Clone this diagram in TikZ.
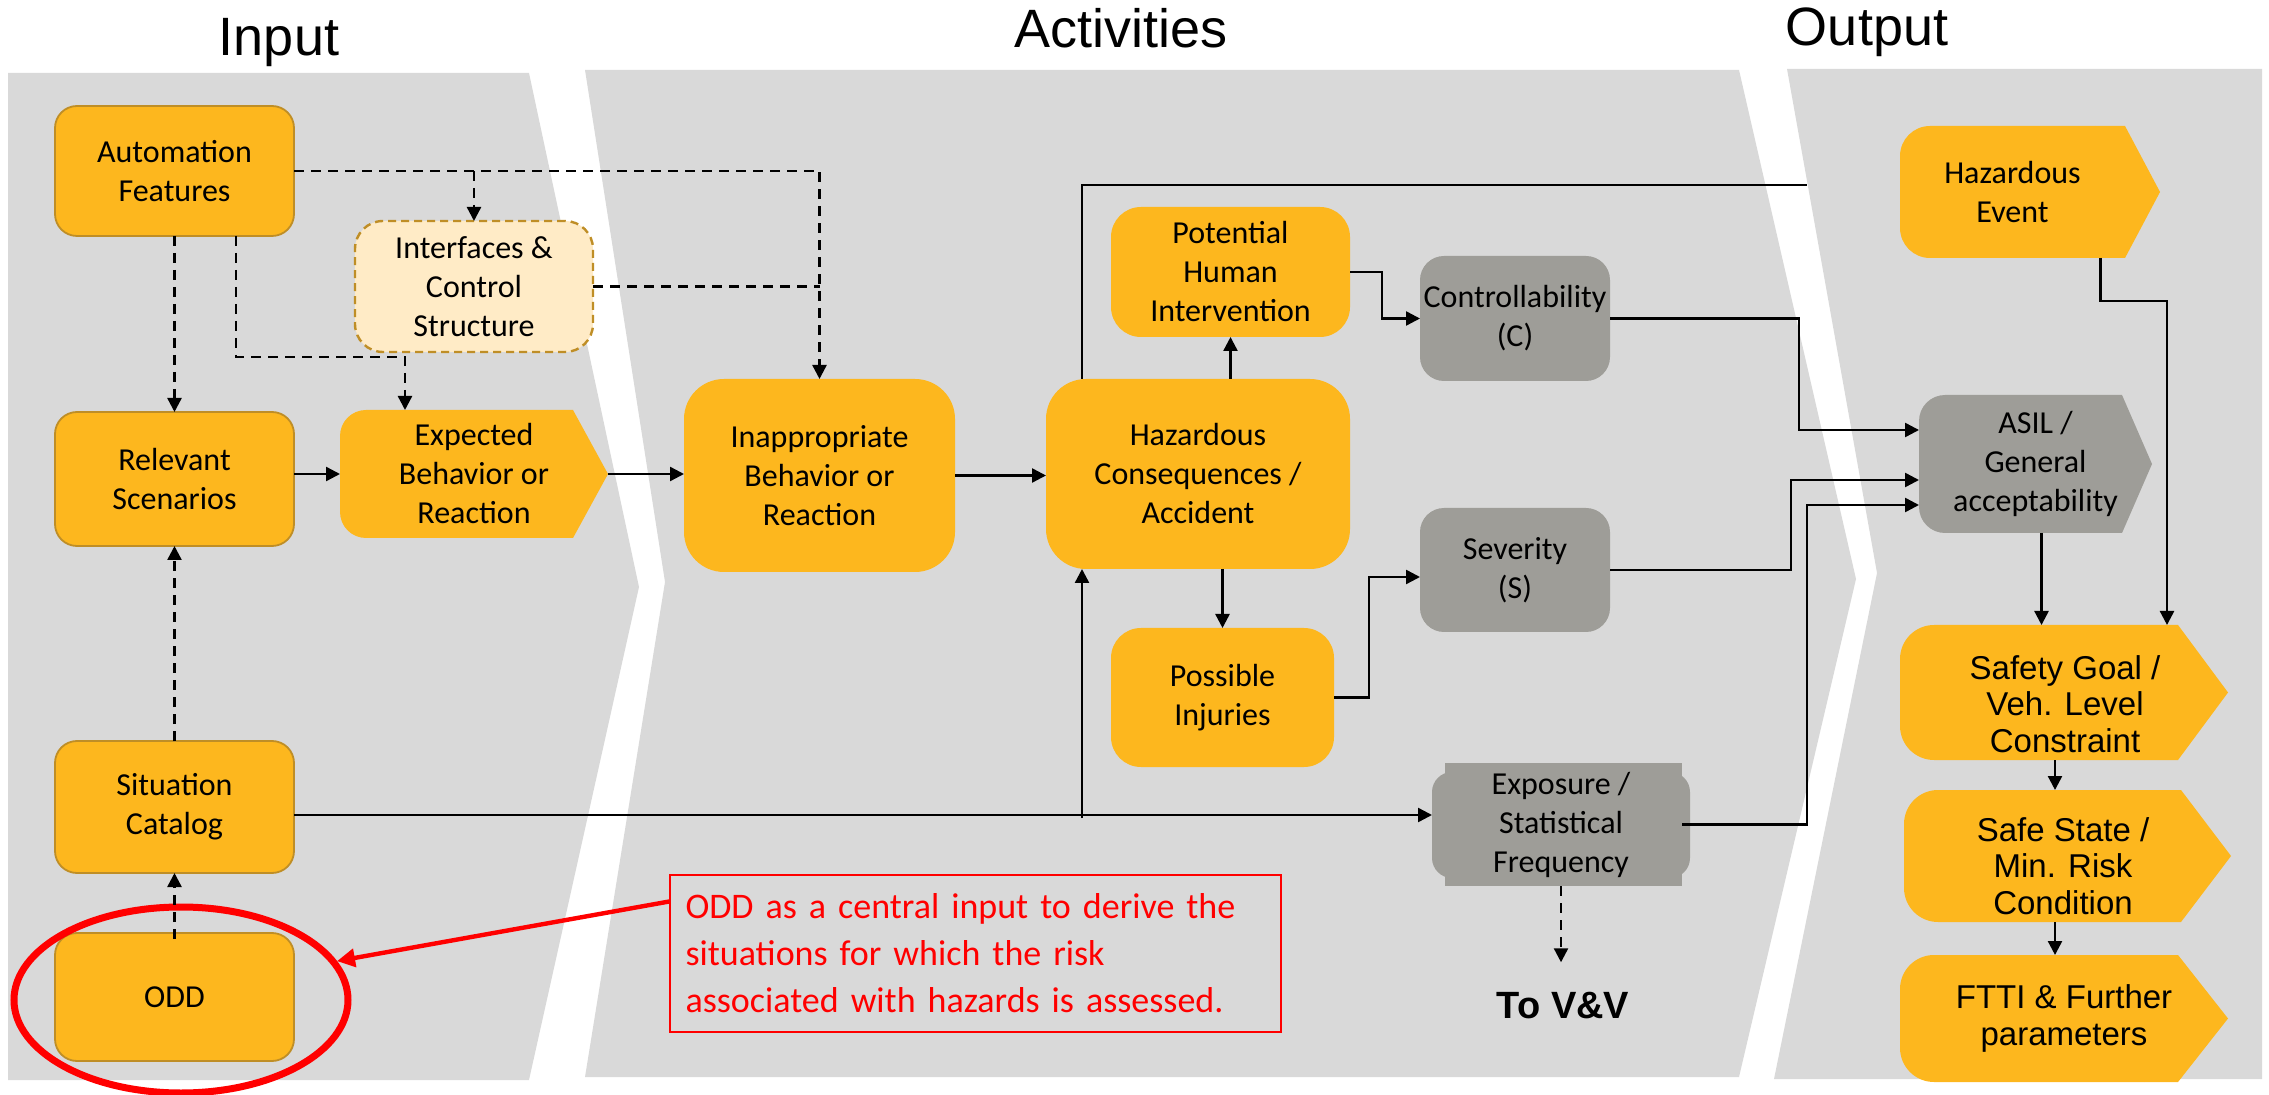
\documentclass[tikz,border=0pt]{standalone}
\usepackage{fontspec}
\setmainfont{Carlito}
\newfontfamily\arialf{Liberation Sans}
\usetikzlibrary{arrows.meta,shapes.geometric,calc}

\definecolor{panel}{RGB}{217,217,217}
\definecolor{orng}{RGB}{253,183,30}
\definecolor{orngline}{RGB}{191,142,38}
\definecolor{lightorng}{RGB}{255,235,198}
\definecolor{grybox}{RGB}{158,157,152}
\definecolor{redc}{RGB}{255,0,0}

\newcommand\nfont{\fontsize{16}{19.5}\selectfont}
\newcommand\afont{\arialf\fontsize{16.5}{18.3}\selectfont}

% #1 style, #2 name, #3 x1, #4 y1, #5 x2, #6 y2, #7 text   (pixel coordinates)
\newcommand\pbox[7]{%
 \pgfmathsetmacro\pbcx{(#3+#5)/2}%
 \pgfmathsetmacro\pbcy{(#4+#6)/2}%
 \pgfmathsetmacro\pbw{(#5-#3)*0.5}%
 \pgfmathsetmacro\pbh{(#6-#4)*0.5}%
 \node[#1, minimum width=\pbw pt, minimum height=\pbh pt] (#2) at (\pbcx,\pbcy) {#7};}

% chevron: #1 colour, #2 x1, #3 y1, #4 x flat, #5 x tip, #6 y2, #7 radius px
\newcommand\chev[7]{%
 \pgfmathsetmacro\chm{(#3+#6)/2}%
 \pgfmathsetmacro\chr{#7*0.5}%
 \pgfmathsetmacro\chs{#4-#7}%
 \fill[#1, rounded corners=\chr pt] (#2,#3) rectangle (#4,#6);
 \fill[#1] (\chs,#3) -- (#4,#3) -- (#5,\chm) -- (#4,#6) -- (\chs,#6) -- cycle;}

\tikzset{
 obox/.style={rectangle, rounded corners=11pt, fill=orng, draw=orngline, line width=0.9pt, align=center, font=\nfont, inner sep=0pt, outer sep=0pt},
 ofill/.style={rectangle, rounded corners=#1, fill=orng, align=center, font=\nfont, inner sep=0pt, outer sep=0pt},
 gbox/.style={rectangle, rounded corners=12pt, fill=grybox, align=center, font=\nfont, inner sep=0pt, outer sep=0pt},
 tbox/.style={rectangle, align=center, font=\nfont, inner sep=0pt, outer sep=0pt},
 conn/.style={line width=1.2pt, -{Triangle[length=7pt,width=7pt]}},
 dconn/.style={conn, dash pattern=on 5pt off 3.5pt},
 plain/.style={line width=1.2pt},
 dplain/.style={line width=1.2pt, dash pattern=on 5pt off 3.5pt},
 title/.style={font=\arialf\fontsize{27}{30}\selectfont, inner sep=0pt},
}

\begin{document}
\begin{tikzpicture}[x=0.5pt, y=-0.5pt]
\useasboundingbox (0,0) rectangle (2269,1095);

% panels
\fill[panel] (8,73) -- (529,73) -- (639,587) -- (529,1080) -- (8,1080) -- cycle;
\fill[panel] (585,70) -- (1739,70) -- (1856,579) -- (1739,1077) -- (585,1077) -- (665,582) -- cycle;
\fill[panel] (1787,69) -- (2262,69) -- (2262,1079) -- (1774,1079) -- (1877,573) -- cycle;

% titles
\node[title] (tin) at (279,43) {Input};
\node[title] (tact) at (1121,28) {Activities};
\node[title] (tout) at (1867,32) {Output};

% input column
\pbox{obox}{af}{55}{106}{294}{236}{Automation\\Features}
\pbox{obox, fill=lightorng, dash pattern=on 4pt off 2.5pt, line width=1.2pt, rounded corners=14pt}{ifc}{355}{221}{593}{352}{Interfaces \&\\Control\\Structure}
\pbox{obox}{rs}{55}{412}{294}{546}{Relevant\\Scenarios}
\chev{orng}{340}{410}{573}{608}{538}{26}
\pbox{tbox}{eb}{340}{410}{608}{538}{Expected\\Behavior or\\Reaction}
\pbox{obox}{sc}{55}{741}{294}{873}{Situation\\Catalog}
\pbox{obox}{odd}{55}{933}{294}{1061}{ODD}

% activities
\pbox{ofill=20pt}{ib}{684}{379}{955}{572}{Inappropriate\\Behavior or\\Reaction}
\pbox{ofill=20pt}{hc}{1046}{379}{1350}{569}{Hazardous\\Consequences /\\Accident}
\pbox{ofill=15pt}{phi}{1111}{207}{1350}{337}{Potential\\Human\\Intervention}
\pbox{gbox}{ct}{1420}{256}{1610}{381}{Controllability\\(C)}
\pbox{gbox}{sv}{1420}{508}{1610}{632}{Severity\\(S)}
\pbox{ofill=15pt}{pi}{1111}{628}{1334}{767}{Possible\\Injuries}
\fill[grybox, rounded corners=10pt] (1432,772) rectangle (1690,878);
\fill[grybox] (1445,763) rectangle (1682,886);
\pbox{tbox}{ex}{1432}{763}{1690}{886}{Exposure /\\Statistical\\Frequency}
\node[font=\arialf\bfseries\fontsize{19}{22}\selectfont, inner sep=0pt] (tovv) at (1563,1006) {To V\&V};

% output
\chev{orng}{1900}{126}{2125}{2160}{258}{30}
\pbox{tbox}{he}{1900}{126}{2125}{258}{Hazardous\\Event}
\chev{grybox}{1919}{395}{2122}{2152}{533}{26}
\pbox{tbox}{as}{1919}{395}{2152}{533}{ASIL /\\General\\acceptability}
\chev{orng}{1900}{625}{2178}{2228}{760}{34}
\pbox{tbox}{sg}{1900}{625}{2228}{760}{}
\node[tbox, font=\afont] (sgt) at (2065,704) {Safety Goal /\\Veh. Level\\Constraint};
\chev{orng}{1904}{790}{2181}{2231}{922}{34}
\pbox{tbox}{ss}{1904}{790}{2231}{922}{}
\node[tbox, font=\afont] (sst) at (2063,866) {Safe State /\\Min. Risk\\Condition};
\chev{orng}{1900}{955}{2178}{2228}{1082}{34}
\pbox{tbox, font=\afont}{ft}{1900}{955}{2228}{1082}{FTTI \& Further\\parameters}

% annotation
\node[ellipse, draw=redc, line width=3.5pt, minimum width=167pt, minimum height=93pt, inner sep=0pt] (ring) at (181,1000) {};
\pbox{draw=redc, line width=0.8pt, text=redc, align=left, font=\fontsize{18}{23.5}\selectfont, text width=290pt, inner xsep=7.5pt, inner ysep=4pt}{note}{670}{875}{1281}{1032}{ODD as a central input to derive the\\situations for which the risk\\associated with hazards is assessed.}
\draw[redc, line width=2.2pt, -{Triangle[length=9pt,width=9pt]}] ([yshift=26pt]note.west) -- (ring.14);

% dashed connectors (input)
\draw[dconn] (af.south) -- (rs.north);
\draw[dconn] (af.east) -| (ib.north);
\draw[dconn] (ifc.north |- af.east) -- (ifc.north);
\draw[dplain] (ifc.east) -- (ifc.east -| ib.north);
\coordinate (afS) at ([xshift=30.75pt]af.south);
\coordinate (ebN) at ([xshift=-34.5pt]eb.north);
\draw[dconn] (afS) -- ++(0,121) -| (ebN);
\draw[dconn] (sc.north) -- (rs.south);
\draw[dconn] ([yshift=-3pt]odd.north) -- (sc.south);

% solid connectors
\draw[conn] (rs.east |- eb.west) -- (eb.west);
\draw[conn] (eb.east) -- (eb.east -| ib.west);
\draw[conn] (ib.east) -- (ib.east -| hc.west);
\draw[conn] (phi.south |- hc.north) -- (phi.south);
\draw[conn] (pi.north |- hc.south) -- (pi.north);

\coordinate (heend) at (1807,185);
\coordinate (hcN) at ([xshift=-58pt]hc.north);
\draw[plain] (hcN) |- (heend);

\coordinate (scl) at ([yshift=-4pt]sc.east);
\draw[conn] (scl) -- (scl -| ex.west);
\coordinate (hcS) at ([xshift=-58pt]hc.south);
\draw[conn] ([yshift=-1.5pt]hcS |- scl) -- (hcS);

\draw[conn] (phi.east) -| (1382,318.5) -- (ct.west);
\coordinate (svA) at ([yshift=-3.5pt]sv.west);
\draw[conn] (pi.east) -| (1369,577) -- (svA);

\coordinate (asA) at ([yshift=17pt]as.west);
\coordinate (asB) at ([yshift=-8pt]as.west);
\coordinate (asC) at ([yshift=-20.5pt]as.west);
\draw[conn] (ct.east) -| (1799,430) -- (asA);
\draw[conn] (sv.east) -| (1791,480) -- (asB);
\draw[conn] ([xshift=-4pt]ex.east) -| (1807,505) -- (asC);

\coordinate (vvN) at ([yshift=15pt]tovv.north);
\draw[dconn] (ex.south) -- (ex.south |- vvN);

\coordinate (heS) at ([xshift=44pt]he.south);
\coordinate (sgN) at ([xshift=51.5pt]sg.north);
\coordinate (hebend) at (2167,301);
\draw[conn] (heS) |- (hebend) -- (sgN);
\coordinate (asS) at ([xshift=3pt]as.south);
\draw[conn] (asS) -- (asS |- sg.north);
\coordinate (sgS) at ([xshift=-4.5pt]sg.south);
\draw[conn] (sgS) -- (sgS |- ss.north);
\coordinate (ssS) at ([xshift=-6.25pt]ss.south);
\draw[conn] (ssS) -- (ssS |- ft.north);
\end{tikzpicture}
\end{document}
